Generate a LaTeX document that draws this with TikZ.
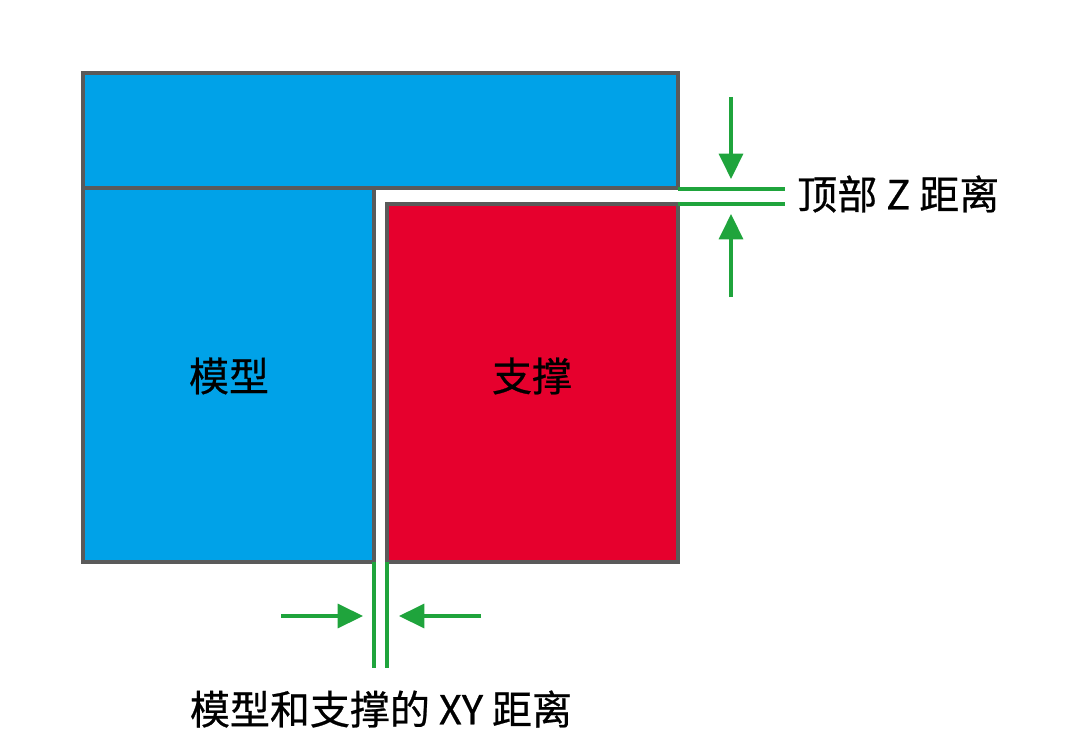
\documentclass[tikz,border=0pt]{standalone}
\usepackage{fontspec}
\setmainfont{Noto Sans CJK SC}[FakeBold=0.6]
\usetikzlibrary{arrows.meta}
\definecolor{mblue}{HTML}{00A2E8}
\definecolor{mred}{HTML}{E6002D}
\definecolor{mgray}{HTML}{5A5A5A}
\definecolor{mgreen}{HTML}{1FA43C}
\tikzset{
  part/.style={draw=mgray, line width=2.6pt},
  guide/.style={draw=mgreen, line width=2.6pt},
  dimarrow/.style={draw=mgreen, line width=2.6pt, -{Triangle[length=19pt,width=18pt]}},
  lbl/.style={font=\fontsize{30}{36}\selectfont, inner sep=0pt}
}
\begin{document}
\begin{tikzpicture}[x=0.75pt,y=-0.75pt]
\useasboundingbox (0,0) rectangle (1080,752);
% parts
\draw[part, fill=mblue] (83,73) rectangle (678,188);
\draw[part, fill=mblue] (83,188) rectangle (374,562);
\draw[part, fill=mred] (387,204) rectangle (678,562);
\node[lbl] (model) at (229,376) {模型};
\node[lbl] (support) at (532,376) {支撑};
% Z distance
\coordinate (zt0) at (678,189);
\coordinate (zt1) at (785,189);
\coordinate (zb0) at (678,204);
\coordinate (zb1) at (785,204);
\draw[guide] (zt0) -- (zt1);
\draw[guide] (zb0) -- (zb1);
\coordinate (za0) at (731,97);
\coordinate (za1) at (731,179);
\coordinate (zc0) at (731,297);
\coordinate (zc1) at (731,214);
\draw[dimarrow] (za0) -- (za1);
\draw[dimarrow] (zc0) -- (zc1);
\node[lbl, anchor=west] (ztext) at (797,194) {顶部 Z 距离};
% XY distance
\coordinate (xl0) at (374,562);
\coordinate (xl1) at (374,668);
\coordinate (xr0) at (387,562);
\coordinate (xr1) at (387,668);
\draw[guide] (xl0) -- (xl1);
\draw[guide] (xr0) -- (xr1);
\coordinate (xa0) at (281,616);
\coordinate (xa1) at (363,616);
\coordinate (xb0) at (481,616);
\coordinate (xb1) at (399,616);
\draw[dimarrow] (xa0) -- (xa1);
\draw[dimarrow] (xb0) -- (xb1);
\node[lbl] (xytext) at (381,709) {模型和支撑的 XY 距离};
\end{tikzpicture}
\end{document}
